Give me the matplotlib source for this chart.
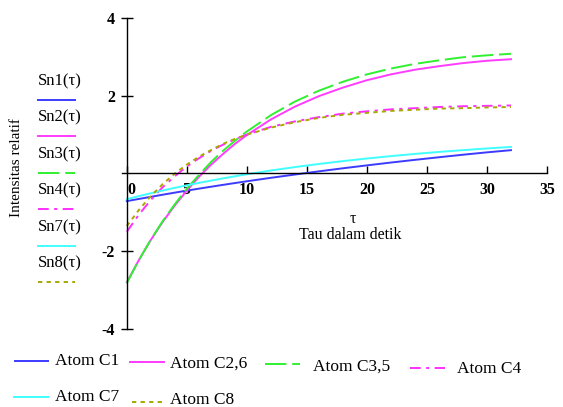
import matplotlib
matplotlib.use('Agg')
import matplotlib.pyplot as plt
from matplotlib.lines import Line2D
from matplotlib.transforms import ScaledTranslation

plt.rcParams['font.family'] = ['Liberation Serif', 'DejaVu Serif']

# waktu tau (detik)
tau = [0, 1, 2, 3, 4, 5, 6, 7, 8, 9, 10, 12, 14, 16, 18, 20, 22, 24, 26, 28, 30, 32]

# intensitas relatif tiap atom
sn1 = [-0.71, -0.655, -0.600, -0.545, -0.492, -0.440, -0.390, -0.341, -0.293, -0.246, -0.200,
       -0.111, -0.027, 0.055, 0.134, 0.209, 0.282, 0.351, 0.418, 0.483, 0.544, 0.600]
sn2 = [-2.80, -2.23, -1.71, -1.24, -0.82, -0.44, -0.09, 0.22, 0.50, 0.76, 0.99,
       1.39, 1.72, 1.99, 2.21, 2.40, 2.55, 2.67, 2.76, 2.84, 2.90, 2.94]
sn3 = [-2.82, -2.23, -1.70, -1.22, -0.79, -0.39, -0.04, 0.29, 0.58, 0.84, 1.08,
       1.50, 1.85, 2.13, 2.36, 2.55, 2.70, 2.82, 2.91, 2.99, 3.04, 3.08]
sn4 = [-1.50, -1.06, -0.68, -0.35, -0.07, 0.18, 0.39, 0.58, 0.74, 0.88, 1.00,
       1.20, 1.34, 1.45, 1.54, 1.60, 1.65, 1.68, 1.71, 1.73, 1.74, 1.75]
sn7 = [-0.66, -0.582, -0.508, -0.437, -0.369, -0.304, -0.242, -0.183, -0.126, -0.072, -0.020,
       0.077, 0.165, 0.245, 0.319, 0.386, 0.447, 0.504, 0.555, 0.601, 0.644, 0.683]
sn8 = [-1.35, -0.94, -0.58, -0.27, 0.00, 0.23, 0.43, 0.60, 0.76, 0.89, 1.00,
       1.18, 1.32, 1.43, 1.51, 1.56, 1.61, 1.64, 1.67, 1.68, 1.70, 1.71]

names = ['Sn1(\u03c4)', 'Sn2(\u03c4)', 'Sn3(\u03c4)', 'Sn4(\u03c4)', 'Sn7(\u03c4)', 'Sn8(\u03c4)']
atoms = ['Atom C1', 'Atom C2,6', 'Atom C3,5', 'Atom C4', 'Atom C7', 'Atom C8']
series = [sn1, sn2, sn3, sn4, sn7, sn8]

colors = ['#3c3cff', '#ff3cff', '#30f030', '#ff30ff', '#40ffff', '#a8a800']
styles = ['-', '-', (0, (11, 3)), (0, (5.5, 2.8, 1.6, 2.8)), '-', (0, (2.2, 2.2))]
lw = 1.4

fig = plt.figure(figsize=(5.63, 4.07), dpi=100)
ax = fig.add_axes([122 / 563, 1 - 329 / 407, 425 / 563, 311 / 407])

for y, c, ls, lab in zip(series, colors, styles, atoms):
    ax.plot(tau, y, color=c, linestyle=ls, lw=lw, label=lab)

ax.set_xlim(-0.4, 35)
ax.set_ylim(-4, 4)
ax.spines['left'].set_position(('data', 0))
ax.spines['bottom'].set_position(('data', 0))
ax.spines['top'].set_visible(False)
ax.spines['right'].set_visible(False)
for s in ['left', 'bottom']:
    ax.spines[s].set_linewidth(1.0)

ax.set_xticks([0, 5, 10, 15, 20, 25, 30, 35])
ax.set_xticklabels(['0', '5', '10', '15', '20', '25', '30', '35'])
ax.set_yticks([-4, -2, 2, 4])
ax.set_yticklabels(['-4', '-2', '2', '4'])
ax.tick_params(axis='x', direction='in', length=5, width=1, pad=6, labelsize=11.5)
ax.tick_params(axis='y', direction='inout', length=9, width=1, pad=4, labelsize=11.5)
for t in ax.get_xticklabels() + ax.get_yticklabels():
    t.set_fontweight('bold')
# label 0 digeser sedikit ke kanan sumbu y
lab0 = ax.get_xticklabels()[0]
lab0.set_transform(lab0.get_transform() + ScaledTranslation(5 / 100, 0, fig.dpi_scale_trans))

fig.text(17 / 563, 1 - 168 / 407, 'Intensitas relatif', rotation=90, fontsize=11,
         ha='center', va='center')
fig.text(353 / 563, 1 - 219 / 407, '\u03c4', fontsize=11.5, ha='center', va='center')
fig.text(350 / 563, 1 - 235 / 407, 'Tau dalam detik', fontsize=11.5, ha='center', va='center')


def fig_line(x0, x1, ypx, c, ls):
    fig.add_artist(Line2D([x0 / 563, x1 / 563], [1 - ypx / 407] * 2,
                          transform=fig.transFigure, color=c, linestyle=ls, lw=lw))


# label jejak ala Mathcad di kiri
for i, (nm, c, ls) in enumerate(zip(names, colors, styles)):
    ty = 81 + i * 36.5
    fig.text(38 / 563, 1 - ty / 407, nm, fontsize=12, ha='left', va='center')
    fig_line(38, 75, ty + 18.5, c, ls)

# keterangan atom di bawah (posisi seperti aslinya, tidak rata)
leg_line_x = [(15, 48), (130, 164), (265, 300), (410, 445), (14, 48), (132, 163)]
leg_line_y = [361, 362, 364, 368, 397, 402]
leg_text_x = [55, 170, 313, 457, 55, 170]
leg_text_y = [361, 364, 367, 369, 397, 400]
for i in range(6):
    fig_line(leg_line_x[i][0], leg_line_x[i][1], leg_line_y[i], colors[i], styles[i])
    fig.text(leg_text_x[i] / 563, 1 - leg_text_y[i] / 407, atoms[i], fontsize=12.5,
             ha='left', va='center')

fig.savefig('out.png', dpi=100)
